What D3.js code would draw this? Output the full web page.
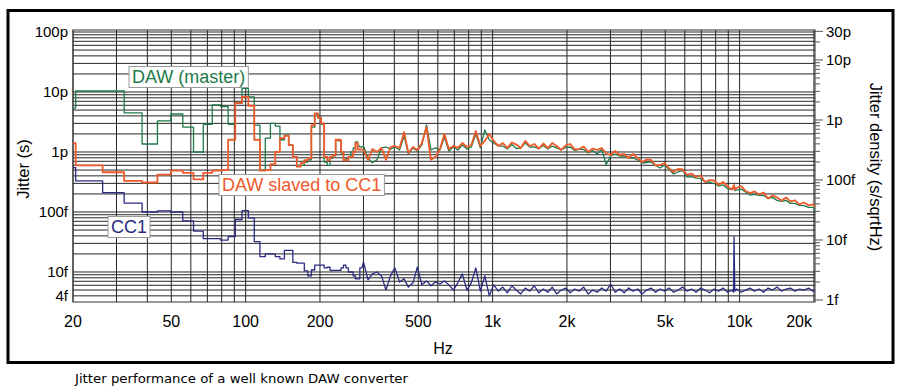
<!DOCTYPE html>
<html><head><meta charset="utf-8">
<script src="https://cdn.jsdelivr.net/npm/d3@7/dist/d3.min.js"></script>
<style>
body{margin:0;background:#fff;}
svg{display:block;}
</style></head><body>
<svg id="chart" width="900" height="390"></svg>
<script>
// ---------- DATA ----------
// FFT bin width (Hz) and index of the first bin drawn (low-frequency staircase part)
const BIN_HZ = 48000 / 8192;
const BIN_START = 3;

const xTickValues = [20, 50, 100, 200, 500, 1000, 2000, 5000, 10000, 20000];
const xTickLabels = ["20", "50", "100", "200", "500", "1k", "2k", "5k", "10k", "20k"];
const leftTickValues = [100, 10, 1, 0.1, 0.01, 0.004];          // picoseconds
const leftTickLabels = ["100p", "10p", "1p", "100f", "10f", "4f"];
const rightTickValues = [30, 10, 1, 0.1, 0.01, 0.001];          // picoseconds / sqrt(Hz)
const rightTickLabels = ["30p", "10p", "1p", "100f", "10f", "1f"];
const seriesNames = ["DAW (master)", "DAW slaved to CC1", "CC1"];

// Jitter per FFT bin (ps), bins 3..50
const masterBins = [5.4, 10.4, 10.4, 4.5, 1.36, 3.3, 4.3, 2.6, 1.0, 2.9, 6.1, 5.7, 2.9, 6.5, 11.5, 8.3,
  2.8, 0.5, 1.7, 3.0, 2.7, 1.6, 1.9, 1.3, 0.83, 0.58, 0.6, 0.68, 0.74, 2.6, 4.3, 3.7, 2.9, 0.68, 0.6,
  0.79, 0.86, 1.58, 1.53, 0.96, 0.74, 0.79, 0.83, 1.0, 1.17, 1.47, 1.26, 1.21];
const slavedBins = [1.4, 0.6, 0.46, 0.33, 0.31, 0.42, 0.49, 0.45, 0.35, 0.45, 0.49, 0.5, 1.6, 6.6, 8.3, 5.9,
  1.6, 0.49, 0.5, 0.63, 1.0, 1.7, 1.85, 1.3, 0.83, 0.57, 0.65, 0.73, 0.79, 2.8, 4.4, 3.7, 3.0, 0.83, 0.73,
  0.83, 0.89, 1.6, 1.6, 1.0, 0.73, 0.73, 0.83, 0.83, 1.0, 1.4, 1.1, 1.1];
const cc1Bins = [0.55, 0.33, 0.21, 0.14, 0.1, 0.104, 0.1, 0.071, 0.048, 0.036, 0.036, 0.034, 0.039, 0.075, 0.105, 0.08,
  0.032, 0.018, 0.02, 0.02, 0.018, 0.0165, 0.023, 0.023, 0.0145, 0.014, 0.014, 0.0104, 0.0086, 0.0108, 0.013, 0.013,
  0.013, 0.0117, 0.012, 0.0106, 0.0106, 0.0106, 0.0106, 0.0117, 0.013, 0.0117, 0.01, 0.01, 0.0086, 0.0077, 0.0077, 0.0117];

// Higher-frequency part (Hz)
const hiHz = [300, 313, 326, 340, 355, 370, 386, 402, 420, 438, 456, 476, 496, 517, 540, 563, 587, 612, 638, 665,
  694, 723, 754, 787, 820, 855, 892, 930, 970, 1010, 1055, 1100, 1147, 1196, 1247, 1300, 1356, 1414, 1475, 1538,
  1604, 1672, 1744, 1818, 1896, 1977, 2062, 2150, 2242, 2338, 2438, 2542, 2651, 2764, 2883, 3006, 3135, 3269, 3409,
  3555, 3707, 3866, 4031, 4204, 4384, 4571, 4767, 4971, 5184, 5406, 5637, 5879, 6130, 6393, 6666, 6952, 7249, 7560,
  7883, 8221, 8573, 8940, 9323, 9450, 9500, 9560, 9722, 10138, 10572, 11025, 11497, 11989, 12502, 13037, 13595, 14177,
  14784, 15417, 16077, 16765, 17483, 18231, 19012, 19825, 20300];
const masterHi = [1.26, 0.79, 0.66, 0.74, 1.17, 1.21, 1.12, 1.21, 1.08, 1.85, 0.93, 1.17, 1.04, 1.31, 2.82, 1.08, 1.17, 1.08, 1.78, 1.04,
  1.21, 1.08, 1.31, 1.12, 1.21, 2.0, 1.17, 2.33, 1.58,
  1.417, 1.26, 1.256, 1.122, 1.333, 1.141, 1.166, 1.417, 1.212, 1.212, 1.14, 1.283, 1.122, 1.256, 1.167, 1.08, 1.19, 1.212,
  1.058, 1.12, 1.10, 0.962, 1.056, 0.927, 1.122, 0.619, 0.857, 0.927, 0.857, 0.857, 0.794, 0.795, 0.735, 0.655, 0.668,
  0.682, 0.596, 0.541, 0.607, 0.511, 0.43, 0.464, 0.492, 0.383, 0.39, 0.368, 0.362, 0.316, 0.316, 0.298, 0.271, 0.282,
  0.246, 0.237,
  0.251, 0.251, 0.228,
  0.232, 0.241, 0.215, 0.192, 0.196, 0.189, 0.188, 0.168, 0.175, 0.156, 0.15, 0.156, 0.139, 0.139, 0.129, 0.128, 0.119, 0.119, 0.111];
const slavedHi = [1.08, 0.74, 1.12, 1.0, 1.17, 0.74, 1.21, 1.26, 1.17, 2.15, 0.96, 1.21, 1.08, 1.41, 2.61, 0.74, 0.83, 1.12, 2.0, 1.12,
  1.26, 1.17, 1.41, 1.21, 1.31, 2.24, 1.26, 1.53, 2.0,
  1.53, 1.26, 1.41, 1.166, 1.44, 1.33, 1.166, 1.53, 1.26, 1.36, 1.14, 1.385, 1.166, 1.41, 1.26, 1.08, 1.285, 1.36,
  1.10, 1.12, 1.235, 1.0, 1.14, 1.08, 1.166, 0.944, 0.891, 1.04, 0.891, 0.926, 0.794, 0.926, 0.794, 0.681, 0.75,
  0.736, 0.596, 0.607, 0.656, 0.531, 0.464, 0.521, 0.511, 0.414, 0.438, 0.383, 0.406, 0.316, 0.341, 0.335, 0.282, 0.316,
  0.266, 0.237,
  0.271, 0.282, 0.237,
  0.251, 0.271, 0.224, 0.207, 0.22, 0.196, 0.211, 0.168, 0.189, 0.175, 0.156, 0.175, 0.15, 0.156, 0.134, 0.144, 0.129, 0.134, 0.12];
const cc1Hi = [0.0147, 0.0074, 0.0093, 0.010, 0.0086, 0.005, 0.0086, 0.0117, 0.0068, 0.0077, 0.0056, 0.0066, 0.0121, 0.0061, 0.0071, 0.0059, 0.0068, 0.0063, 0.0071, 0.0061,
  0.005, 0.0066, 0.0093, 0.005, 0.0066, 0.0117, 0.0048, 0.0086, 0.004, 0.0061, 0.0048, 0.0056, 0.0045, 0.0059, 0.005, 0.0043, 0.0054, 0.0048, 0.0059, 0.0045,
  0.0052, 0.0046, 0.0056, 0.0043, 0.005, 0.0054, 0.0045, 0.0052, 0.0048, 0.0056, 0.0043, 0.005, 0.0046, 0.0054, 0.0048, 0.0063, 0.0046, 0.0052, 0.0045,
  0.0054, 0.0048, 0.0052, 0.0043, 0.005, 0.0054, 0.0046, 0.0052, 0.0048, 0.0054, 0.0046, 0.005, 0.0056, 0.0048, 0.0052, 0.0046, 0.0054, 0.005, 0.0045,
  0.0052, 0.0048, 0.0054, 0.0046, 0.005, 0.0046, 0.039, 0.0048, 0.0052, 0.0046, 0.005, 0.0054, 0.0048, 0.0052, 0.0046, 0.0054, 0.005, 0.0056,
  0.0048, 0.0052, 0.0054, 0.0048, 0.0052, 0.005, 0.0054, 0.0048, 0.005];

// ---------- LAYOUT ----------
const svg = d3.select("#chart");
const P = {left: 73, right: 815, top: 30, bottom: 302};
const x = d3.scaleLog().domain([20, 20200]).range([P.left, P.right]);
const yL = d3.scaleLog().domain([108, 0.00316]).range([P.top, P.bottom]);
const yR = d3.scaleLog().domain([31.6, 0.000926]).range([P.top, P.bottom]);
const FONT = "'Liberation Sans', Arial, Helvetica, sans-serif";

// outer frame
svg.append("rect").attr("x", 8).attr("y", 10.5).attr("width", 885).attr("height", 352)
  .attr("fill", "#fff").attr("stroke", "#000").attr("stroke-width", 3);

// gridlines
const grid = svg.append("g");
const hLines = [];
for (let e = -3; e <= 2; e++) for (let m = 1; m <= 9; m++) {
  const v = m * Math.pow(10, e);
  if (v > yL.domain()[1] && v < yL.domain()[0]) hLines.push(v);
}
grid.selectAll("line.h").data(hLines).join("line").attr("class", "h")
  .attr("x1", P.left).attr("x2", P.right).attr("y1", d => yL(d)).attr("y2", d => yL(d))
  .attr("stroke", "#262626").attr("stroke-width", 1);
const vLines = [];
for (let e = 1; e <= 4; e++) for (let m = 1; m <= 9; m++) {
  const f = m * Math.pow(10, e);
  if (f >= 20 && f <= 20000) vLines.push(f);
}
grid.selectAll("line.v").data(vLines).join("line").attr("class", "v")
  .attr("x1", d => x(d)).attr("x2", d => x(d)).attr("y1", P.top).attr("y2", P.bottom)
  .attr("stroke", "#262626").attr("stroke-width", 1);
svg.append("rect").attr("x", P.left).attr("y", P.top).attr("width", P.right - P.left).attr("height", P.bottom - P.top)
  .attr("fill", "none").attr("stroke", "#333").attr("stroke-width", 1);

// series
function buildPoints(bins, hi) {
  const pts = [];
  bins.forEach((v, i) => {
    const k = BIN_START + i;
    pts.push([(k - 0.5) * BIN_HZ, v]);
    pts.push([(k + 0.5) * BIN_HZ, v]);
  });
  hi.forEach((v, i) => pts.push([hiHz[i], v]));
  return pts;
}
svg.append("clipPath").attr("id", "clip").append("rect")
  .attr("x", P.left).attr("y", P.top).attr("width", P.right - P.left).attr("height", P.bottom - P.top);
const line = d3.line().x(d => x(d[0])).y(d => yL(d[1]));
const series = [
  {name: seriesNames[0], pts: buildPoints(masterBins, masterHi), color: "#1f7a4c", w: 1.3},
  {name: seriesNames[1], pts: buildPoints(slavedBins, slavedHi), color: "#ef5a2a", w: 1.8},
  {name: seriesNames[2], pts: buildPoints(cc1Bins, cc1Hi), color: "#2b2b82", w: 1.3}
];
const gS = svg.append("g").attr("clip-path", "url(#clip)");
gS.selectAll("path").data(series).join("path")
  .attr("d", d => line(d.pts)).attr("fill", "none")
  .attr("stroke", d => d.color).attr("stroke-width", d => d.w).attr("stroke-linejoin", "round");

// left axis labels
svg.append("g").selectAll("text").data(leftTickValues).join("text")
  .attr("x", 68).attr("y", d => yL(d)).attr("dy", "0.36em").attr("text-anchor", "end")
  .attr("font-family", FONT).attr("font-size", 15).text((d, i) => leftTickLabels[i]);

// right axis ticks & labels
const rMinor = [];
for (let e = -4; e <= 2; e++) for (let m = 1; m <= 9; m++) {
  const v = m * Math.pow(10, e);
  if (v >= yR.domain()[1] && v <= yR.domain()[0]) rMinor.push(v);
}
svg.append("g").selectAll("line").data(rMinor).join("line")
  .attr("x1", P.right).attr("x2", d => P.right + (rightTickValues.some(t => Math.abs(t - d) / d < 1e-6) ? 8 : 5))
  .attr("y1", d => yR(d)).attr("y2", d => yR(d)).attr("stroke", "#555").attr("stroke-width", 1);
svg.append("g").selectAll("text").data(rightTickValues).join("text")
  .attr("x", 826).attr("y", d => yR(d)).attr("dy", "0.36em").attr("text-anchor", "start")
  .attr("font-family", FONT).attr("font-size", 15).text((d, i) => rightTickLabels[i]);

// x labels
svg.append("g").selectAll("text").data(xTickValues).join("text")
  .attr("x", (d, i) => i === xTickValues.length - 1 ? x(d) - 2 : x(d)).attr("y", 327)
  .attr("text-anchor", (d, i) => i === xTickValues.length - 1 ? "end" : "middle")
  .attr("font-family", FONT).attr("font-size", 16).text((d, i) => xTickLabels[i]);

// axis titles
svg.append("text").attr("x", 443).attr("y", 354).attr("text-anchor", "middle")
  .attr("font-family", FONT).attr("font-size", 16).text("Hz");
svg.append("text").attr("transform", "translate(29,169) rotate(-90)").attr("text-anchor", "middle")
  .attr("font-family", FONT).attr("font-size", 16.5).text("Jitter (s)");
svg.append("text").attr("transform", "translate(870,167) rotate(90)").attr("text-anchor", "middle")
  .attr("font-family", FONT).attr("font-size", 16.5).text("Jitter density (s/sqrtHz)");

// series labels in boxes
const labels = [
  {text: seriesNames[0], x: 132, y: 83, color: "#1f7a4c"},
  {text: seriesNames[1], x: 222, y: 191, color: "#ef5a2a"},
  {text: seriesNames[2], x: 111, y: 233, color: "#2b2b82"}
];
labels.forEach(l => {
  const g = svg.append("g");
  const r = g.append("rect");
  const t = g.append("text").attr("x", l.x).attr("y", l.y).attr("font-family", FONT)
    .attr("font-size", 18).attr("fill", l.color).text(l.text);
  const b = t.node().getBBox();
  r.attr("x", b.x - 3).attr("y", b.y - 0.5).attr("width", b.width + 6).attr("height", b.height + 1)
    .attr("fill", "#fff").attr("stroke", "#9a9a9a").attr("stroke-width", 1);
});

// caption
svg.append("text").attr("x", 75).attr("y", 383).attr("font-family", "'DejaVu Sans', sans-serif")
  .attr("font-size", 12).attr("textLength", 333).attr("lengthAdjust", "spacingAndGlyphs")
  .text("Jitter performance of a well known DAW converter");
</script>
</body></html>
